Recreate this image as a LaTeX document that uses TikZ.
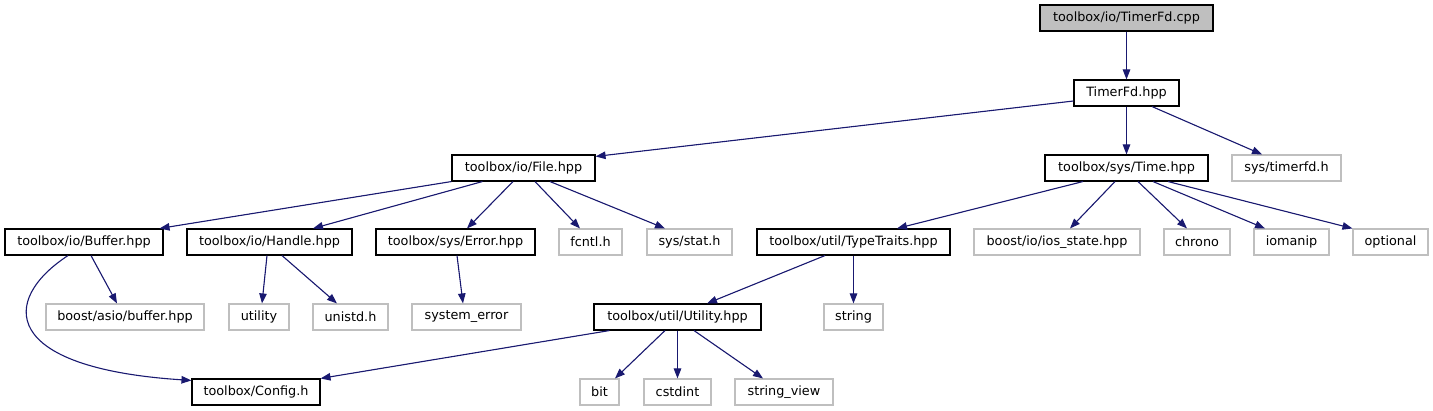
\documentclass[tikz,border=0pt]{standalone}
\usepackage{fontspec}
\setmainfont{DejaVu Sans}
\usetikzlibrary{arrows.meta}
\definecolor{edgeblue}{HTML}{191970}
\definecolor{lightgr}{HTML}{BFBFBF}
\tikzset{
  box/.style={draw=black, line width=1.1pt, fill=white, minimum height=26pt, inner sep=0pt, font=\fontsize{12.8}{14}\selectfont},
  rootbox/.style={box, fill=lightgr},
  extbox/.style={box, draw=lightgr},
  dep/.style={draw=edgeblue, line width=1.1pt, -{Triangle[length=10pt,width=7.5pt]}, fill=edgeblue}
}
\begin{document}
\begin{tikzpicture}[x=1pt,y=-1pt]
\useasboundingbox (0,0) rectangle (1433,411);
% row 0
\node[rootbox, minimum width=173pt] (cpp) at (1126.5,18) {toolbox/io/TimerFd.cpp};
% row 1
\node[box, minimum width=105pt] (tfh) at (1126.5,93) {TimerFd.hpp};
% row 2
\node[box, minimum width=143pt] (file) at (523.5,168) {toolbox/io/File.hpp};
\node[box, minimum width=163pt] (time) at (1126.5,168) {toolbox/sys/Time.hpp};
\node[extbox, minimum width=109pt] (timerfd) at (1286.5,168) {sys/timerfd.h};
% row 3
\node[box, minimum width=158pt] (buffer) at (84,242) {toolbox/io/Buffer.hpp};
\node[box, minimum width=165pt] (handle) at (269.5,242) {toolbox/io/Handle.hpp};
\node[box, minimum width=159pt] (error) at (455.5,242) {toolbox/sys/Error.hpp};
\node[extbox, minimum width=63pt] (fcntl) at (590.5,242) {fcntl.h};
\node[extbox, minimum width=85pt] (stat) at (689.5,242) {sys/stat.h};
\node[box, minimum width=193pt] (tt) at (853.5,242) {toolbox/util/TypeTraits.hpp};
\node[extbox, minimum width=166pt] (ios) at (1057,242) {boost/io/ios\_state.hpp};
\node[extbox, minimum width=66pt] (chrono) at (1197,242) {chrono};
\node[extbox, minimum width=75pt] (iomanip) at (1291.5,242) {iomanip};
\node[extbox, minimum width=75pt] (optional) at (1390.5,242) {optional};
% row 4
\node[extbox, minimum width=158pt] (asio) at (125,317) {boost/asio/buffer.hpp};
\node[extbox, minimum width=60pt] (utility) at (259,317) {utility};
\node[extbox, minimum width=75pt] (unistd) at (350.5,317) {unistd.h};
\node[extbox, minimum width=109pt] (syserr) at (466.5,317) {system\_error};
\node[box, minimum width=167pt] (utilh) at (677.5,317) {toolbox/util/Utility.hpp};
\node[extbox, minimum width=59pt] (string) at (853.5,317) {string};
% row 5
\node[box, minimum width=128pt] (config) at (256,392) {toolbox/Config.h};
\node[extbox, minimum width=39pt] (bit) at (599.5,392) {bit};
\node[extbox, minimum width=67pt] (cstdint) at (677.5,392) {cstdint};
\node[extbox, minimum width=98pt] (sv) at (784,392) {string\_view};
% edges
\draw[dep] (cpp.south) -- (tfh.north);
\draw[dep] ([yshift=-8pt]tfh.west) -- ([yshift=-2pt]file.north east);
\draw[dep] (tfh.south) -- (time.north);
\draw[dep] ([xshift=25.5pt]tfh.south) -- ([xshift=-24.5pt]timerfd.north);
\draw[dep] (file.south west) -- ([xshift=-4pt]buffer.north east);
\draw[dep] ([xshift=31pt]file.south west) -- ([xshift=43.5pt]handle.north);
\draw[dep] ([xshift=-10.5pt]file.south) -- ([xshift=11.5pt]error.north);
\draw[dep] ([xshift=11.5pt]file.south) -- ([xshift=-10.5pt]fcntl.north);
\draw[dep] ([xshift=26.5pt]file.south) -- ([xshift=-24.5pt]stat.north);
\draw[dep] ([xshift=-43.5pt]time.south) -- ([xshift=43.5pt]tt.north);
\draw[dep] ([xshift=-11.5pt]time.south) -- ([xshift=13pt]ios.north);
\draw[dep] ([xshift=11.5pt]time.south) -- ([xshift=-10pt]chrono.north);
\draw[dep] ([xshift=26.5pt]time.south) -- ([xshift=-26.5pt]iomanip.north);
\draw[dep] ([xshift=41.5pt]time.south) -- (optional.north west);
\draw[dep] ([xshift=7pt]buffer.south) -- ([xshift=-8pt]asio.north);
\draw[dep, fill=none] ([xshift=-16pt]buffer.south) .. controls (0,300) and (0,368) .. ([yshift=-2pt]config.north west);
\draw[dep] ([xshift=-2.5pt]handle.south) -- ([xshift=3pt]utility.north);
\draw[dep] ([xshift=12.5pt]handle.south) -- ([xshift=-13.5pt]unistd.north);
\draw[dep] ([xshift=1.5pt]error.south) -- ([xshift=-3.5pt]syserr.north);
\draw[dep] ([xshift=-28.5pt]tt.south) -- ([xshift=29.5pt]utilh.north);
\draw[dep] (tt.south) -- (string.north);
\draw[dep] ([xshift=16pt]utilh.south west) -- (config.north east);
\draw[dep] ([xshift=-12.5pt]utilh.south) -- ([xshift=15.5pt]bit.north);
\draw[dep] (utilh.south) -- (cstdint.north);
\draw[dep] ([xshift=16.5pt]utilh.south) -- ([xshift=-21pt]sv.north);
\end{tikzpicture}
\end{document}
